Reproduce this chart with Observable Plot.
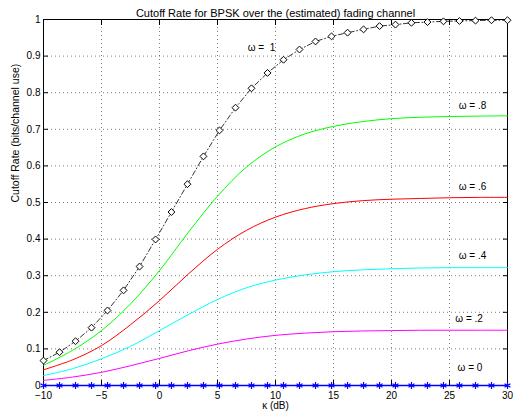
<!DOCTYPE html>
<html>
<head>
<meta charset="utf-8">
<script src="https://cdn.jsdelivr.net/npm/d3@7"></script>
<script src="https://cdn.jsdelivr.net/npm/@observablehq/plot@0.6"></script>
<style>
  html, body { margin: 0; padding: 0; background: #fff; }
  svg { display: block; }
</style>
</head>
<body>
<div id="chart"></div>
<script>
// ---- data ----
const titleText = "Cutoff Rate for BPSK over the (estimated) fading channel";
const xLabelText = "κ (dB)";
const yLabelText = "Cutoff Rate (bits/channel use)";

const xTicks = [-10, -5, 0, 5, 10, 15, 20, 25, 30];
const yTicks = [0, 0.1, 0.2, 0.3, 0.4, 0.5, 0.6, 0.7, 0.8, 0.9, 1];

// marker abscissae (30 points, -10..30 dB)
const kappaMarkers = [-10, -8.62, -7.24, -5.86, -4.48, -3.10, -1.72, -0.34, 1.03, 2.41,
  3.79, 5.17, 6.55, 7.93, 9.31, 10.69, 12.07, 13.45, 14.83, 16.21,
  17.59, 18.97, 20.34, 21.72, 23.10, 24.48, 25.86, 27.24, 28.62, 30];
const omega1 = [0.068, 0.091, 0.121, 0.158, 0.205, 0.260, 0.325, 0.399, 0.474, 0.550,
  0.626, 0.697, 0.759, 0.812, 0.854, 0.890, 0.918, 0.940, 0.954, 0.964,
  0.973, 0.982, 0.986, 0.991, 0.993, 0.995, 0.996, 0.997, 0.998, 0.998];
const omega0 = [0, 0, 0, 0, 0, 0, 0, 0, 0, 0, 0, 0, 0, 0, 0,
  0, 0, 0, 0, 0, 0, 0, 0, 0, 0, 0, 0, 0, 0, 0];

// smooth curves sampled at these abscissae
const kappaGrid = [-10, -7.5, -5, -2.5, 0, 2.5, 5, 7.5, 10, 12.5, 15, 17.5, 20, 22.5, 25, 27.5, 30];
const omega08 = [0.055, 0.096, 0.150, 0.223, 0.314, 0.419, 0.517, 0.597, 0.652, 0.687, 0.708, 0.721, 0.729, 0.733, 0.735, 0.736, 0.737];
const omega06 = [0.043, 0.070, 0.109, 0.166, 0.232, 0.305, 0.372, 0.424, 0.460, 0.483, 0.497, 0.505, 0.509, 0.511, 0.513, 0.514, 0.514];
const omega04 = [0.027, 0.046, 0.073, 0.107, 0.150, 0.194, 0.235, 0.267, 0.288, 0.302, 0.311, 0.316, 0.319, 0.321, 0.322, 0.322, 0.322];
const omega02 = [0.014, 0.023, 0.036, 0.054, 0.074, 0.095, 0.113, 0.127, 0.137, 0.143, 0.147, 0.149, 0.150, 0.151, 0.151, 0.151, 0.151];

const curveNames = ["ω = .8", "ω = .6", "ω = .4", "ω = .2"];
const curveColors = ["#00ff00", "#ff0000", "#00ffff", "#ff00ff"];

// in-plot annotations
const labelText = ["ω =  1", "ω = .8", "ω = .6", "ω = .4", "ω = .2", "ω = 0"];
const labelX = [7.6, 25.8, 25.8, 25.8, 25.5, 25.7];
const labelY = [0.923, 0.765, 0.544, 0.355, 0.183, 0.049];

// ---- build tables ----
const curveSeries = [omega08, omega06, omega04, omega02];
const curves = [];
curveSeries.forEach((vals, s) => vals.forEach((v, i) => curves.push({x: kappaGrid[i], y: v, name: curveNames[s]})));
const om1 = kappaMarkers.map((k, i) => ({x: k, y: omega1[i]}));
const om0 = kappaMarkers.map((k, i) => ({x: k, y: omega0[i]}));
const labels = labelText.map((t, i) => ({t, x: labelX[i], y: labelY[i]}));

const W = 514, H = 413;
const font = "Liberation Sans, Arial, Helvetica, sans-serif";

const chart = Plot.plot({
  width: W,
  height: H,
  marginLeft: 43,
  marginRight: 7,
  marginTop: 19,
  marginBottom: 28,
  style: {fontFamily: font, fontSize: "10px", color: "#000", background: "#fff"},
  x: {domain: [-10, 30]},
  y: {domain: [0, 1]},
  color: {domain: curveNames, range: curveColors},
  marks: [
    Plot.gridX(xTicks, {stroke: "#000", strokeOpacity: 0.5, strokeDasharray: "1,3", strokeWidth: 1}),
    Plot.gridY(yTicks, {stroke: "#000", strokeOpacity: 0.5, strokeDasharray: "1,3", strokeWidth: 1}),
    Plot.frame({stroke: "#000", strokeWidth: 1}),
    // tick labels
    Plot.axisX(xTicks, {anchor: "bottom", tickSize: 0, tickPadding: 6, label: null, fontSize: 10}),
    Plot.axisY(yTicks, {anchor: "left", tickSize: 0, tickPadding: 3, label: null, fontSize: 10, tickFormat: d => String(+d.toFixed(1))}),
    // inward ticks on all four sides
    Plot.axisX(xTicks, {anchor: "bottom", tickSize: -5, tickFormat: () => "", label: null}),
    Plot.axisX(xTicks, {anchor: "top", tickSize: -5, tickFormat: () => "", label: null}),
    Plot.axisY(yTicks, {anchor: "left", tickSize: -5, tickFormat: () => "", label: null}),
    Plot.axisY(yTicks, {anchor: "right", tickSize: -5, tickFormat: () => "", label: null}),
    // data
    Plot.line(curves, {x: "x", y: "y", stroke: "name", z: "name", curve: "catmull-rom", strokeWidth: 1}),
    Plot.line(om1, {x: "x", y: "y", stroke: "#000", strokeWidth: 0.8, strokeDasharray: "5,2.5,1,2.5"}),
    Plot.dot(om1, {x: "x", y: "y", symbol: "diamond2", r: 3.1, fill: "#fff", stroke: "#000", strokeWidth: 1}),
    Plot.line(om0, {x: "x", y: "y", stroke: "#0000ff", strokeWidth: 1.5}),
    Plot.dot(om0, {x: "x", y: "y", symbol: "asterisk", r: 3.2, stroke: "#0000ff", strokeWidth: 1.2}),
    // annotations
    Plot.text(labels, {x: "x", y: "y", text: "t", textAnchor: "start", fontSize: 10, fill: "#000"}),
    Plot.text([titleText], {frameAnchor: "top", dy: -10, fontSize: 11, fill: "#000"}),
    Plot.text([xLabelText], {frameAnchor: "bottom", dy: 23, fontSize: 10, fill: "#000"}),
    Plot.text([yLabelText], {frameAnchor: "left", dx: -28, rotate: -90, fontSize: 10.5, fill: "#000"})
  ]
});
document.getElementById("chart").appendChild(chart);
</script>
</body>
</html>
